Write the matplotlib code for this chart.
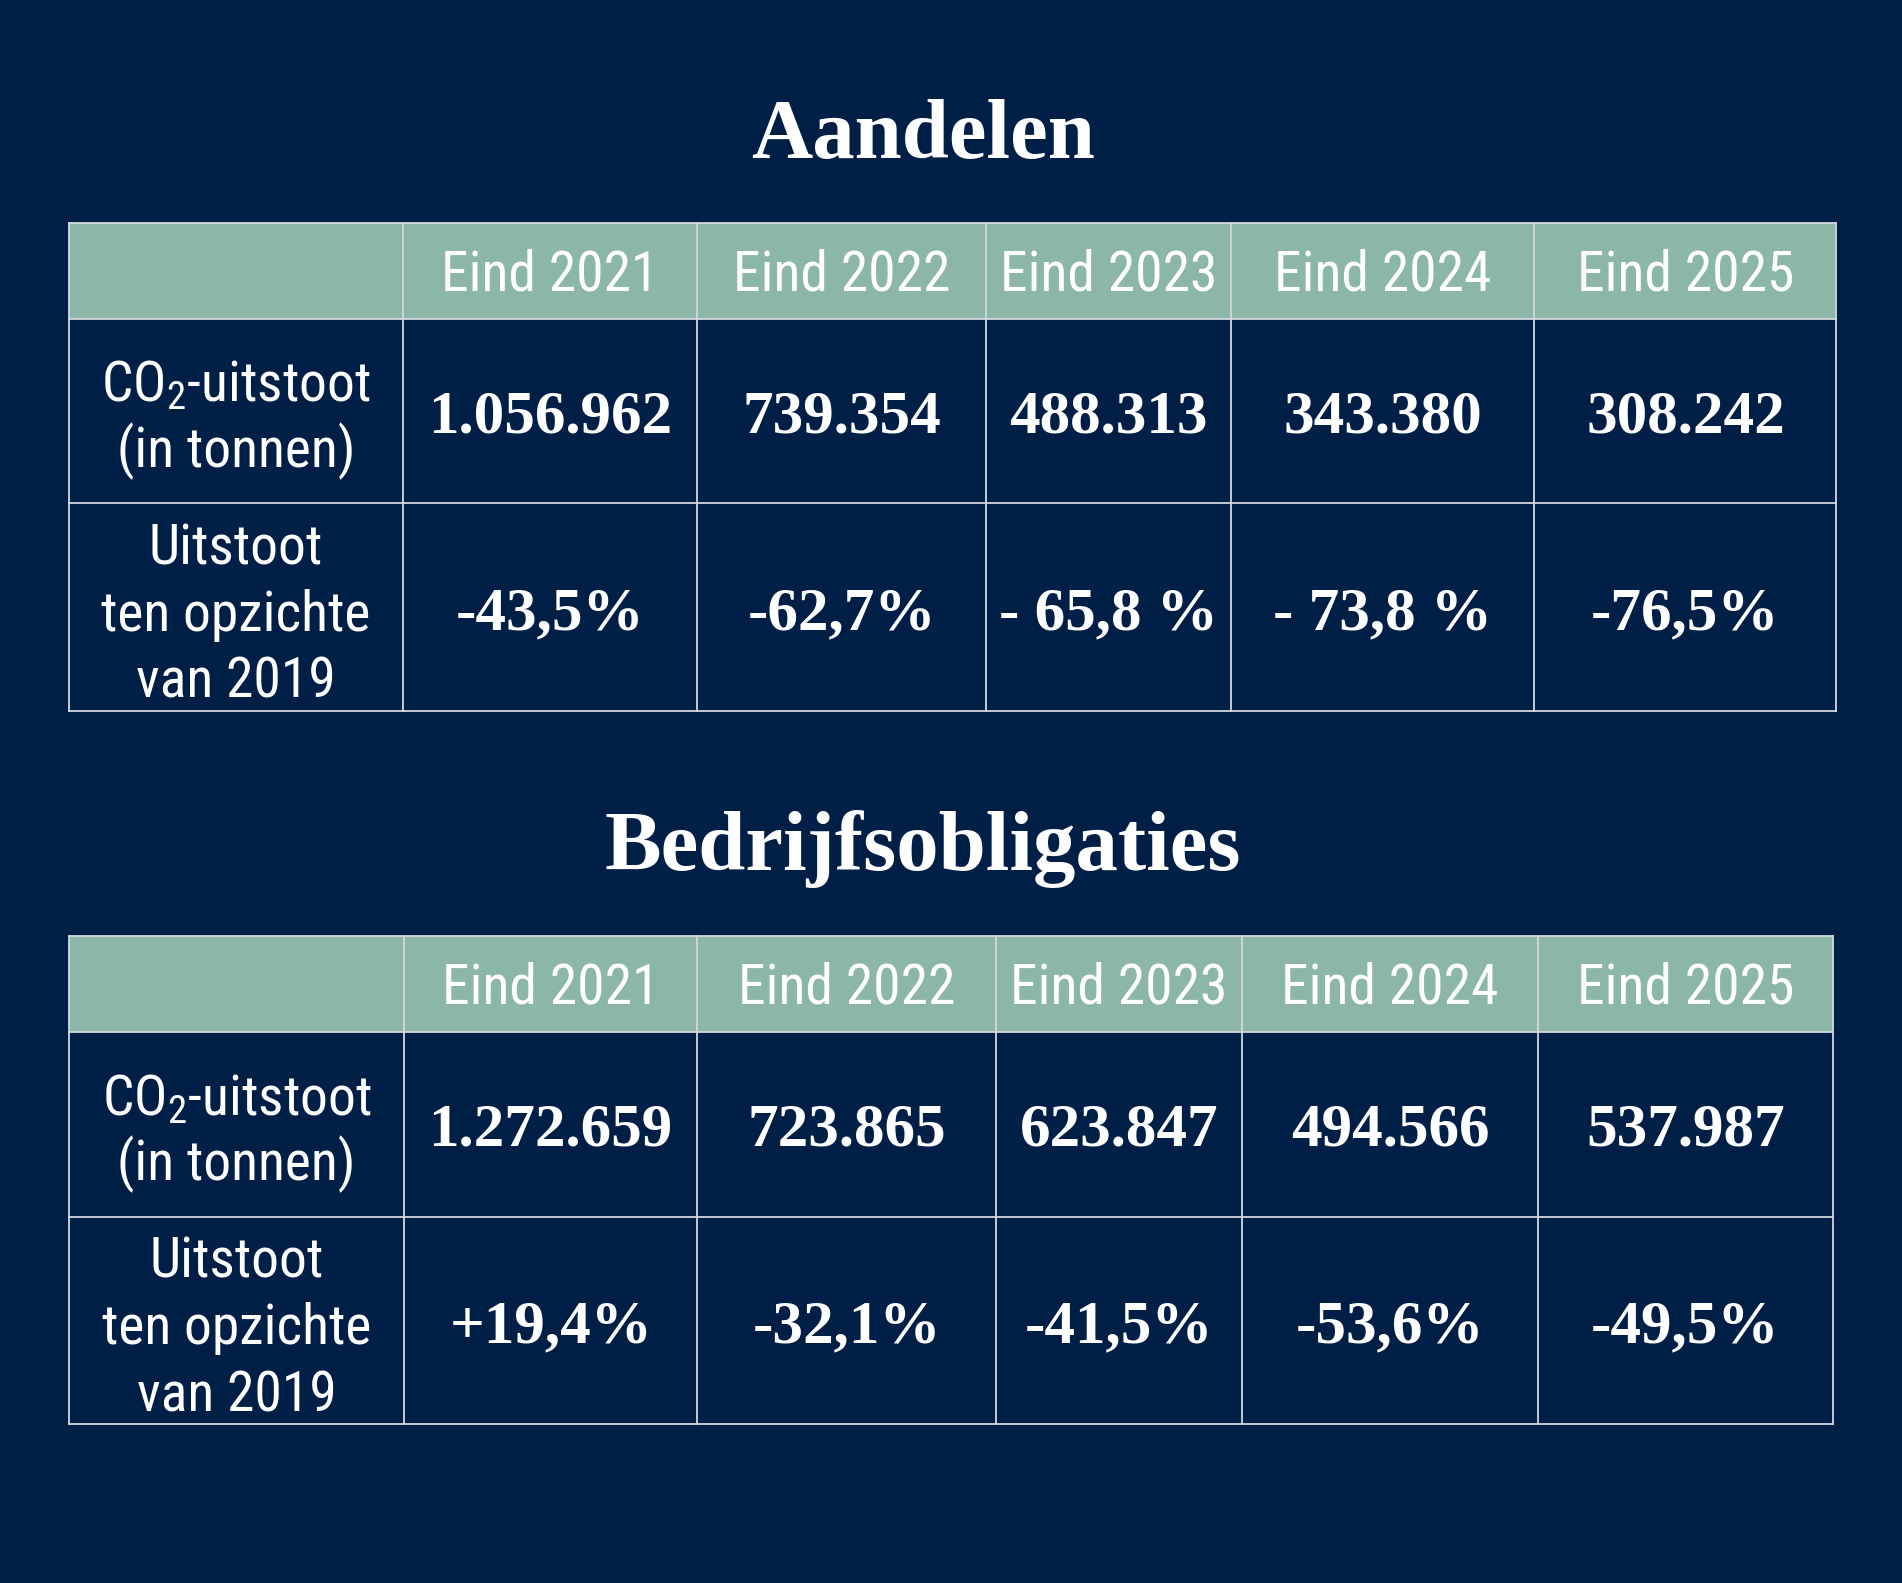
import matplotlib
matplotlib.use("Agg")
import matplotlib.pyplot as plt
from matplotlib.patches import Rectangle
from matplotlib import font_manager

# ---------------- data ----------------
titles = ["Aandelen", "Bedrijfsobligaties"]
years = ["Eind 2021", "Eind 2022", "Eind 2023", "Eind 2024", "Eind 2025"]
row_label_co2 = ["CO$_{2}$-uitstoot", "(in tonnen)"]
row_label_pct = ["Uitstoot", "ten opzichte", "van 2019"]
aandelen_uitstoot = ["1.056.962", "739.354", "488.313", "343.380", "308.242"]
aandelen_pct = ["-43,5%", "-62,7%", "- 65,8 %", "- 73,8 %", "-76,5%"]
obligaties_uitstoot = ["1.272.659", "723.865", "623.847", "494.566", "537.987"]
obligaties_pct = ["+19,4%", "-32,1%", "-41,5%", "-53,6%", "-49,5%"]

# ---------------- style ----------------
BG = "#001f47"
HEAD = "#8bb6a8"
LINE = "#d4d8de"
W, H = 1568, 1305


def _w(v):
    if isinstance(v, int):
        return v
    return {"ultralight": 200, "light": 300, "normal": 400, "regular": 400, "book": 400,
            "medium": 500, "semibold": 600, "demibold": 600, "bold": 700}.get(str(v).lower(), 400)


SANS, SANS_SIZE, SANS_W = "Open Sans", 34, "normal"
cands = []
for f in font_manager.fontManager.ttflist:
    n = f.name
    if ("Condensed" in n or "Narrow" in n) and f.style == "normal" and 250 <= _w(f.weight) <= 450:
        cands.append((n, _w(f.weight)))
pref = ["Liberation Sans Narrow", "Open Sans Condensed", "Roboto Condensed", "Noto Sans Condensed"]
cands.sort(key=lambda c: (pref.index(c[0]) if c[0] in pref else 99, abs(c[1] - 400)))
if cands:
    SANS, SANS_W = cands[0][0], cands[0][1]
    SANS_SIZE = 38 if "Liberation" in SANS else 40
SERIF = "Liberation Serif"

plt.rcParams["mathtext.fontset"] = "custom"
plt.rcParams["mathtext.rm"] = SANS
plt.rcParams["mathtext.it"] = SANS

fig = plt.figure(figsize=(19.02, 15.83), dpi=100, facecolor=BG)
ax = fig.add_axes([0, 0, 1, 1])
ax.set_xlim(0, W)
ax.set_ylim(H, 0)
ax.axis("off")
ax.set_facecolor(BG)

# layout of both tables (display units)
layouts = [
    dict(title_y=130, cols=[57, 332, 575, 813, 1015, 1265, 1514], rows=[184, 263, 415, 586]),
    dict(title_y=717, cols=[57, 333, 575, 821, 1024, 1268, 1511], rows=[772, 851, 1003, 1174]),
]
tables = [(aandelen_uitstoot, aandelen_pct), (obligaties_uitstoot, obligaties_pct)]

for title, lay, (uit, pct) in zip(titles, layouts, tables):
    cols, rows = lay["cols"], lay["rows"]
    ax.text(761, lay["title_y"], title, ha="center", va="baseline", color="white",
            fontsize=61, fontweight="bold", family=SERIF)
    # header fill
    ax.add_patch(Rectangle((cols[0], rows[0]), cols[-1] - cols[0], rows[1] - rows[0],
                           facecolor=HEAD, edgecolor="none", zorder=1))
    # grid lines
    for x in cols:
        ax.plot([x, x], [rows[0], rows[-1]], color=LINE, lw=1.3, zorder=2, solid_capstyle="projecting")
    for y in rows:
        ax.plot([cols[0], cols[-1]], [y, y], color=LINE, lw=1.3, zorder=2, solid_capstyle="projecting")
    centers = [(cols[i] + cols[i + 1]) / 2 for i in range(len(cols) - 1)]
    hy = (rows[0] + rows[1]) / 2 + 3
    r1 = (rows[1] + rows[2]) / 2
    r2 = (rows[2] + rows[3]) / 2
    for cx, yr in zip(centers[1:], years):
        ax.text(cx, hy, yr, ha="center", va="center", color="white",
                fontsize=SANS_SIZE, family=SANS, fontweight=SANS_W, zorder=3)
    # row labels
    for k, line in enumerate(row_label_co2):
        ax.text(centers[0], r1 - 21 + 54 * k, line, ha="center", va="center", color="white",
                fontsize=SANS_SIZE, family=SANS, fontweight=SANS_W, zorder=3)
    for k, line in enumerate(row_label_pct):
        ax.text(centers[0], r2 - 48 + 55 * k, line, ha="center", va="center", color="white",
                fontsize=SANS_SIZE, family=SANS, fontweight=SANS_W, zorder=3)
    for cx, v in zip(centers[1:], uit):
        ax.text(cx, r1 + 5, v, ha="center", va="center", color="white",
                fontsize=44, fontweight="bold", family=SERIF, zorder=3)
    for cx, v in zip(centers[1:], pct):
        ax.text(cx, r2 + 6, v, ha="center", va="center", color="white",
                fontsize=44, fontweight="bold", family=SERIF, zorder=3)

fig.savefig("out.png", dpi=100, facecolor=BG)
